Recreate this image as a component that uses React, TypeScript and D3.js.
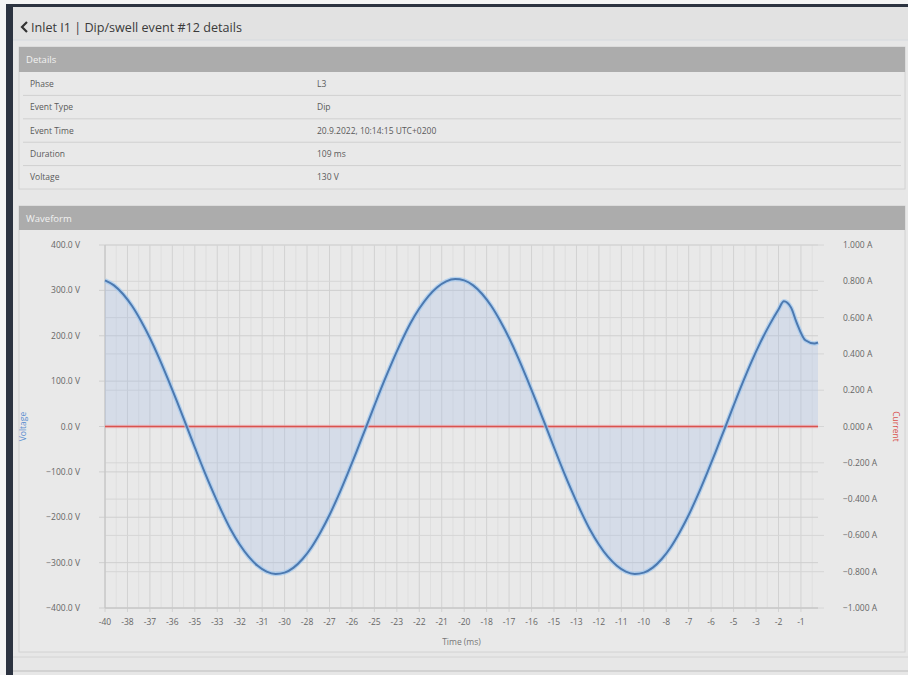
import React, { useEffect, useRef } from "react";
import * as d3 from "d3";

const detailLabels = ["Phase", "Event Type", "Event Time", "Duration", "Voltage"];
const detailValues = ["L3", "Dip", "20.9.2022, 10:14:15 UTC+0200", "109 ms", "130 V"];

const times = [
  -40, -39.5, -39, -38.5, -38, -37.5, -37, -36.5, -36, -35.5,
  -35, -34.5, -34, -33.5, -33, -32.5, -32, -31.5, -31, -30.5,
  -30, -29.5, -29, -28.5, -28, -27.5, -27, -26.5, -26, -25.5,
  -25, -24.5, -24, -23.5, -23, -22.5, -22, -21.5, -21, -20.5,
  -20, -19.5, -19, -18.5, -18, -17.5, -17, -16.5, -16, -15.5,
  -15, -14.5, -14, -13.5, -13, -12.5, -12, -11.5, -11, -10.5,
  -10, -9.5, -9, -8.5, -8, -7.5, -7, -6.5, -6, -5.5,
  -5, -4.5, -4, -3.5, -3, -2.5, -2.2, -1.8, -1.5, -1, -0.5, -0.3,
];
const voltage = [
  322, 311, 292, 266, 233, 195, 152, 105, 56, 5,
  -46, -96, -143, -187, -227, -260, -287, -307, -320, -325,
  -322, -311, -292, -266, -233, -195, -152, -105, -56, -5,
  46, 96, 143, 187, 227, 260, 287, 307, 320, 325,
  322, 311, 292, 266, 233, 195, 152, 105, 56, 5,
  -46, -96, -143, -187, -227, -260, -287, -307, -320, -325,
  -322, -311, -292, -266, -233, -195, -152, -105, -56, -5,
  46, 96, 143, 186, 224, 258, 276, 262, 230, 190, 183, 185,
];
const currentTimes = [-40, -30, -20, -10, -0.3];
const currentValues = [0.0, 0.0, 0.0, 0.0, 0.0];

const xTickValues = [
  -40, -38.75, -37.5, -36.25, -35, -33.75, -32.5, -31.25, -30, -28.75,
  -27.5, -26.25, -25, -23.75, -22.5, -21.25, -20, -18.75, -17.5, -16.25,
  -15, -13.75, -12.5, -11.25, -10, -8.75, -7.5, -6.25, -5, -3.75, -2.5, -1.25,
];
const voltTicks = [400, 300, 200, 100, 0, -100, -200, -300, -400];
const currTicks = [1, 0.8, 0.6, 0.4, 0.2, 0, -0.2, -0.4, -0.6, -0.8, -1];

const FONT = "'Open Sans', 'Liberation Sans', sans-serif";

export default function App() {
  const ref = useRef<SVGSVGElement>(null);

  useEffect(() => {
    const svg = d3.select(ref.current);
    svg.selectAll("*").remove();

    const W = 908, H = 675;
    svg.append("rect").attr("width", W).attr("height", H).attr("fill", "#f4f4f4");
    svg.append("rect").attr("x", 6).attr("y", 4).attr("width", W - 6).attr("height", H - 4).attr("fill", "#2c3340");
    svg.append("rect").attr("x", 13).attr("y", 7).attr("width", W - 13).attr("height", H - 7).attr("fill", "#e7e7e7");
    svg.append("rect").attr("x", 13).attr("y", 7).attr("width", W - 13).attr("height", 33).attr("fill", "#e2e2e2");
    svg.append("line").attr("x1", 13).attr("x2", W).attr("y1", 40).attr("y2", 40).attr("stroke", "#d6dadf");

    // title
    svg.append("path").attr("d", "M27,22 L22,27 L27,32").attr("fill", "none").attr("stroke", "#333").attr("stroke-width", 2.2);
    svg.append("text").attr("x", 31).attr("y", 32).attr("font-family", FONT).attr("font-size", 12.6)
      .attr("fill", "#3a3a3a").text("Inlet I1 | Dip/swell event #12 details");

    // details panel
    const pX = 19, pW = 886;
    svg.append("rect").attr("x", pX).attr("y", 47).attr("width", pW).attr("height", 142)
      .attr("fill", "#e9e9e9").attr("stroke", "#d2d2d2");
    svg.append("rect").attr("x", pX).attr("y", 47).attr("width", pW).attr("height", 25).attr("fill", "#acacac");
    svg.append("text").attr("x", 26).attr("y", 63).attr("font-family", FONT).attr("font-size", 9.5)
      .attr("fill", "#f2f2f2").text("Details");
    const rowY = d3.scaleBand<number>().domain(d3.range(detailLabels.length)).range([72, 189]);
    detailLabels.forEach((lab, i) => {
      const y0 = rowY(i)!;
      const bh = rowY.bandwidth();
      if (i > 0) svg.append("line").attr("x1", pX + 4).attr("x2", pX + pW - 4).attr("y1", y0).attr("y2", y0).attr("stroke", "#d0d0d0");
      svg.append("text").attr("x", 30).attr("y", y0 + bh / 2 + 3).attr("font-family", FONT).attr("font-size", 8.5)
        .attr("fill", "#5a5a5a").text(lab);
      svg.append("text").attr("x", 317).attr("y", y0 + bh / 2 + 3).attr("font-family", FONT).attr("font-size", 8.5)
        .attr("fill", "#5a5a5a").text(detailValues[i]);
    });

    // waveform panel
    svg.append("rect").attr("x", pX).attr("y", 206).attr("width", pW).attr("height", 446)
      .attr("fill", "#e9e9e9").attr("stroke", "#d2d2d2");
    svg.append("rect").attr("x", pX).attr("y", 206).attr("width", pW).attr("height", 24).attr("fill", "#acacac");
    svg.append("text").attr("x", 26).attr("y", 222).attr("font-family", FONT).attr("font-size", 9.5)
      .attr("fill", "#f2f2f2").text("Waveform");
    svg.append("line").attr("x1", 13).attr("x2", W).attr("y1", 657).attr("y2", 657).attr("stroke", "#d4d4d4");
    svg.append("line").attr("x1", 13).attr("x2", W).attr("y1", 671).attr("y2", 671).attr("stroke", "#bdbdbd");

    const L = 105, R = 818, T = 245, B = 608;
    const x = d3.scaleLinear().domain([-40, -0.3]).range([L, R]);
    const yV = d3.scaleLinear().domain([-400, 400]).range([B, T]);
    const yA = d3.scaleLinear().domain([-1, 1]).range([B, T]);

    const g = svg.append("g");
    xTickValues.forEach((t) => {
      g.append("line").attr("x1", x(t)).attr("x2", x(t)).attr("y1", T).attr("y2", B + 4)
        .attr("stroke", "#d2d2d2").attr("stroke-width", 1);
      const mid = t + 0.625;
      if (mid < -0.3)
        g.append("line").attr("x1", x(mid)).attr("x2", x(mid)).attr("y1", T).attr("y2", B)
          .attr("stroke", "#dcdcdc").attr("stroke-width", 0.8);
    });
    voltTicks.forEach((v) => {
      g.append("line").attr("x1", L - 6).attr("x2", R).attr("y1", yV(v)).attr("y2", yV(v))
        .attr("stroke", "#cfcfcf");
    });
    currTicks.forEach((a) => {
      g.append("line").attr("x1", L).attr("x2", R + 6).attr("y1", yA(a)).attr("y2", yA(a))
        .attr("stroke", "#d6d6d6");
    });
    g.append("line").attr("x1", L).attr("x2", L).attr("y1", T).attr("y2", B).attr("stroke", "#c2c2c2");
    g.append("line").attr("x1", L).attr("x2", R).attr("y1", B).attr("y2", B).attr("stroke", "#c2c2c2");

    const pts = times.map((t, i) => [t, voltage[i]] as [number, number]);
    const area = d3.area<[number, number]>().x((d) => x(d[0])).y0(yV(0)).y1((d) => yV(d[1])).curve(d3.curveMonotoneX);
    g.append("path").attr("d", area(pts)).attr("fill", "rgba(160,185,230,0.28)");

    const cpts = currentTimes.map((t, i) => [t, currentValues[i]] as [number, number]);
    const cline = d3.line<[number, number]>().x((d) => x(d[0])).y((d) => yA(d[1]));
    g.append("path").attr("d", cline(cpts)).attr("fill", "none").attr("stroke", "rgba(240,170,175,0.55)").attr("stroke-width", 3.5);
    g.append("path").attr("d", cline(cpts)).attr("fill", "none").attr("stroke", "#d9534f").attr("stroke-width", 1.4);

    const vline = d3.line<[number, number]>().x((d) => x(d[0])).y((d) => yV(d[1])).curve(d3.curveMonotoneX);
    g.append("path").attr("d", vline(pts)).attr("fill", "none").attr("stroke", "rgba(160,200,240,0.7)").attr("stroke-width", 4.5);
    g.append("path").attr("d", vline(pts)).attr("fill", "none").attr("stroke", "#4c79b0").attr("stroke-width", 2);

    voltTicks.forEach((v) => {
      svg.append("text").attr("x", 80).attr("y", yV(v) + 3).attr("text-anchor", "end")
        .attr("font-family", FONT).attr("font-size", 8.5).attr("fill", "#666").text(d3.format(".1f")(v) + " V");
    });
    currTicks.forEach((a) => {
      svg.append("text").attr("x", 843).attr("y", yA(a) + 3).attr("text-anchor", "start")
        .attr("font-family", FONT).attr("font-size", 8.5).attr("fill", "#666").text(d3.format(".3f")(a) + " A");
    });
    xTickValues.forEach((t) => {
      svg.append("text").attr("x", x(t)).attr("y", 625).attr("text-anchor", "middle")
        .attr("font-family", FONT).attr("font-size", 8.5).attr("fill", "#666").text(String(Math.trunc(t)));
    });
    svg.append("text").attr("x", (L + R) / 2).attr("y", 645).attr("text-anchor", "middle")
      .attr("font-family", FONT).attr("font-size", 8.5).attr("fill", "#777").text("Time (ms)");
    svg.append("text").attr("transform", `translate(26,${yV(0)}) rotate(-90)`).attr("text-anchor", "middle")
      .attr("font-family", FONT).attr("font-size", 8.5).attr("fill", "#5b8fd0").text("Voltage");
    svg.append("text").attr("transform", `translate(893,${yV(0)}) rotate(90)`).attr("text-anchor", "middle")
      .attr("font-family", FONT).attr("font-size", 8.5).attr("fill", "#d9534f").text("Current");
  }, []);

  return (
    <svg ref={ref} width={908} height={675} style={{ position: "absolute", left: 0, top: 0 }} />
  );
}
